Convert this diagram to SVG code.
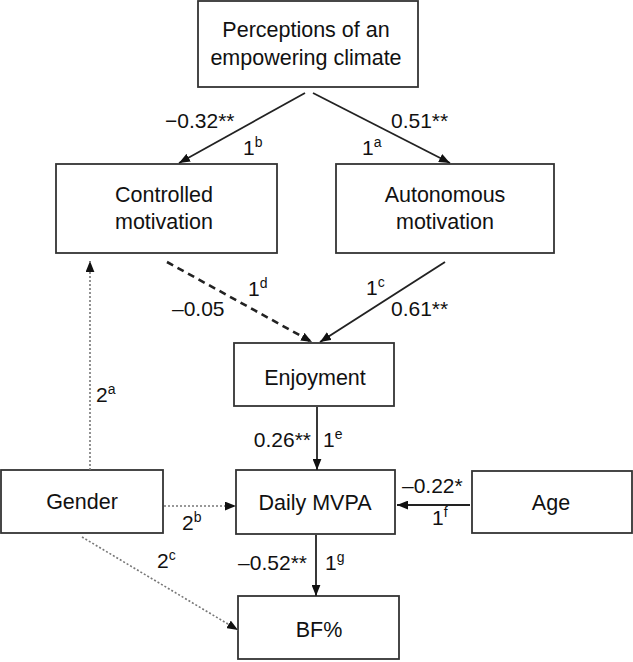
<svg xmlns="http://www.w3.org/2000/svg" width="633" height="662" viewBox="0 0 633 662">
<defs>
<style>
.box{fill:#fff;stroke:#333;stroke-width:1.8}
.t{font-family:"Liberation Sans",Arial,sans-serif;font-size:21.5px;fill:#111;text-anchor:middle}
.l{font-family:"Liberation Sans",Arial,sans-serif;font-size:21px;fill:#111}
.sup{font-size:14px}
.solid{stroke:#222;stroke-width:1.8;fill:none}
.dash{stroke:#222;stroke-width:2.6;fill:none;stroke-dasharray:7 5}
.dot{stroke:#777;stroke-width:1.6;fill:none;stroke-dasharray:2 2}
</style>
<marker id="ah" viewBox="0 0 10 8" refX="10" refY="4" markerWidth="11" markerHeight="9" markerUnits="userSpaceOnUse" orient="auto">
<path d="M0,0 L10,4 L0,8 z" fill="#111"/>
</marker>
</defs>
<rect width="633" height="662" fill="#fff"/>

<g id="perceptions">
<rect class="box" x="198" y="1" width="220" height="86"/>
<text class="t" x="306" y="37">Perceptions of an</text>
<text class="t" x="306" y="65">empowering climate</text>
</g>
<g id="controlled">
<rect class="box" x="56" y="164" width="221" height="89"/>
<text class="t" x="164" y="202">Controlled</text>
<text class="t" x="164" y="229">motivation</text>
</g>
<g id="autonomous">
<rect class="box" x="336" y="164" width="218" height="89"/>
<text class="t" x="445" y="202">Autonomous</text>
<text class="t" x="445" y="229">motivation</text>
</g>
<g id="enjoyment">
<rect class="box" x="234" y="343" width="160" height="63"/>
<text class="t" x="315" y="385">Enjoyment</text>
</g>
<g id="gender">
<rect class="box" x="1" y="470" width="162" height="63"/>
<text class="t" x="82" y="509">Gender</text>
</g>
<g id="mvpa">
<rect class="box" x="236" y="470" width="159" height="64"/>
<text class="t" x="315" y="510">Daily MVPA</text>
</g>
<g id="age">
<rect class="box" x="472" y="471" width="160" height="62"/>
<text class="t" x="551" y="510">Age</text>
</g>
<g id="bf">
<rect class="box" x="238" y="596" width="161" height="63"/>
<text class="t" x="319" y="637">BF%</text>
</g>

<g id="connectors">
<line class="solid" x1="305" y1="93" x2="179" y2="163" marker-end="url(#ah)"/>
<line class="solid" x1="313" y1="93" x2="450" y2="163" marker-end="url(#ah)"/>
<line class="dash" x1="167" y1="262" x2="312" y2="342" marker-end="url(#ah)"/>
<line class="solid" x1="445" y1="262" x2="320" y2="342" marker-end="url(#ah)"/>
<line class="solid" x1="317" y1="407" x2="317" y2="470" marker-end="url(#ah)"/>
<line class="solid" x1="470" y1="505" x2="397" y2="505" stroke-width="2.4" marker-end="url(#ah)"/>
<line class="dot" x1="164" y1="506" x2="236" y2="506" stroke-width="2.2" marker-end="url(#ah)"/>
<line class="dot" x1="90" y1="470" x2="90" y2="261" marker-end="url(#ah)"/>
<line class="dot" x1="82" y1="537" x2="238" y2="630" marker-end="url(#ah)"/>
<line class="solid" x1="316" y1="535" x2="316" y2="596" marker-end="url(#ah)"/>
</g>

<g id="labels">
<text class="l" x="165" y="128">−0.32**</text>
<text class="l" x="243" y="155">1<tspan class="sup" dy="-8">b</tspan></text>
<text class="l" x="391" y="128">0.51**</text>
<text class="l" x="362" y="155">1<tspan class="sup" dy="-8">a</tspan></text>
<text class="l" x="248" y="296">1<tspan class="sup" dy="-8">d</tspan></text>
<text class="l" x="172" y="316">–0.05</text>
<text class="l" x="366" y="295">1<tspan class="sup" dy="-8">c</tspan></text>
<text class="l" x="391" y="316">0.61**</text>
<text class="l" x="311" y="447" text-anchor="end">0.26**</text>
<text class="l" x="323" y="447">1<tspan class="sup" dy="-8">e</tspan></text>
<text class="l" x="402" y="493">–0.22*</text>
<text class="l" x="432" y="525">1<tspan class="sup" dy="-8">f</tspan></text>
<text class="l" x="182" y="530">2<tspan class="sup" dy="-8">b</tspan></text>
<text class="l" x="96" y="402">2<tspan class="sup" dy="-8">a</tspan></text>
<text class="l" x="157" y="568">2<tspan class="sup" dy="-8">c</tspan></text>
<text class="l" x="307" y="570" text-anchor="end">–0.52**</text>
<text class="l" x="325" y="570">1<tspan class="sup" dy="-8">g</tspan></text>
</g>
</svg>
